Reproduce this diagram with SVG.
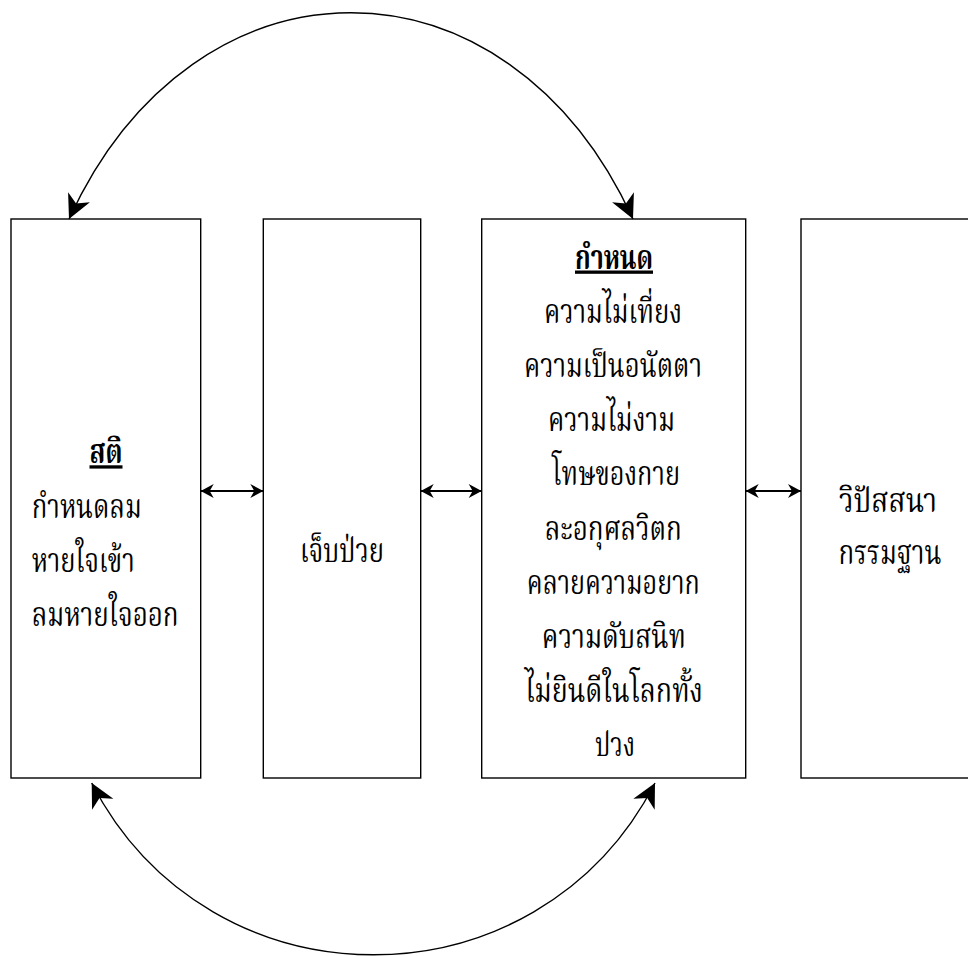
<svg xmlns="http://www.w3.org/2000/svg" width="968" height="956" viewBox="0 0 968 956">
<defs>
<style>
.box{fill:#ffffff;stroke:#000000;stroke-width:1.4}
.edge{fill:none;stroke:#000000;stroke-width:1.4}
.hedge{fill:none;stroke:#000000;stroke-width:2}
.t{font-family:"Noto Serif Thai","Noto Sans Thai","Liberation Serif",serif;font-size:33px;fill:#000000}
.c{text-anchor:middle}
.h{font-weight:bold;text-decoration:underline}
</style>
<marker id="big" markerUnits="userSpaceOnUse" viewBox="-25 -13 27 26" refX="0" refY="0" markerWidth="27" markerHeight="26" orient="auto-start-reverse">
<path d="M0,0 L-24,-12 L-17,0 L-24,12 Z" fill="#000000"/>
</marker>
<marker id="small" markerUnits="userSpaceOnUse" viewBox="-14 -8 15 16" refX="0" refY="0" markerWidth="15" markerHeight="16" orient="auto-start-reverse">
<path d="M0,0 L-13,-7 L-9,0 L-13,7 Z" fill="#000000"/>
</marker>
</defs>
<rect width="968" height="956" fill="#ffffff"/>
<g id="node-sati">
<rect class="box" x="11" y="219" width="189.7" height="559"/>
<text class="t c h" x="106" y="463.3" textLength="33" lengthAdjust="spacingAndGlyphs">สติ</text>
<text class="t" x="31.7" y="517.5" textLength="110" lengthAdjust="spacingAndGlyphs">กำหนดลม</text>
<text class="t" x="31.7" y="571.7" textLength="103" lengthAdjust="spacingAndGlyphs">หายใจเข้า</text>
<text class="t" x="31.7" y="626" textLength="147" lengthAdjust="spacingAndGlyphs">ลมหายใจออก</text>
</g>
<g id="node-sick">
<rect class="box" x="263.3" y="219" width="157.4" height="559"/>
<text class="t c" x="342" y="562" textLength="84" lengthAdjust="spacingAndGlyphs">เจ็บป่วย</text>
</g>
<g id="node-kamnot">
<rect class="box" x="481.7" y="219" width="264" height="559"/>
<text class="t c h" x="614" y="268.5" textLength="78" lengthAdjust="spacingAndGlyphs">กำหนด</text>
<text class="t c" x="613" y="322.7" textLength="138" lengthAdjust="spacingAndGlyphs">ความไม่เที่ยง</text>
<text class="t c" x="613" y="376.9" textLength="178" lengthAdjust="spacingAndGlyphs">ความเป็นอนัตตา</text>
<text class="t c" x="611.5" y="431.1" textLength="127" lengthAdjust="spacingAndGlyphs">ความไม่งาม</text>
<text class="t c" x="616" y="485.3" textLength="128" lengthAdjust="spacingAndGlyphs">โทษของกาย</text>
<text class="t c" x="613.3" y="539.5" textLength="137" lengthAdjust="spacingAndGlyphs">ละอกุศลวิตก</text>
<text class="t c" x="613.3" y="593.7" textLength="173" lengthAdjust="spacingAndGlyphs">คลายความอยาก</text>
<text class="t c" x="613.8" y="647.9" textLength="144" lengthAdjust="spacingAndGlyphs">ความดับสนิท</text>
<text class="t c" x="614" y="702.1" textLength="178" lengthAdjust="spacingAndGlyphs">ไม่ยินดีในโลกทั้ง</text>
<text class="t c" x="615" y="756.3" textLength="40" lengthAdjust="spacingAndGlyphs">ปวง</text>
</g>
<g id="node-vipassana">
<rect class="box" x="801" y="219" width="168" height="559"/>
<text class="t c" x="888" y="511.5" textLength="98" lengthAdjust="spacingAndGlyphs">วิปัสสนา</text>
<text class="t c" x="890" y="564" textLength="103" lengthAdjust="spacingAndGlyphs">กรรมฐาน</text>
</g>
<g id="connectors">
<path class="edge" d="M69,219 C195,-56 507,-56 633,219" marker-start="url(#big)" marker-end="url(#big)"/>
<path class="edge" d="M91.7,783 C210,1012 537,1012 655,783" marker-start="url(#big)" marker-end="url(#big)"/>
<path class="hedge" d="M200.7,491 L263.3,491" marker-start="url(#small)" marker-end="url(#small)"/>
<path class="hedge" d="M420.7,491 L481.7,491" marker-start="url(#small)" marker-end="url(#small)"/>
<path class="hedge" d="M745.7,491 L801,491" marker-start="url(#small)" marker-end="url(#small)"/>
</g>
</svg>
